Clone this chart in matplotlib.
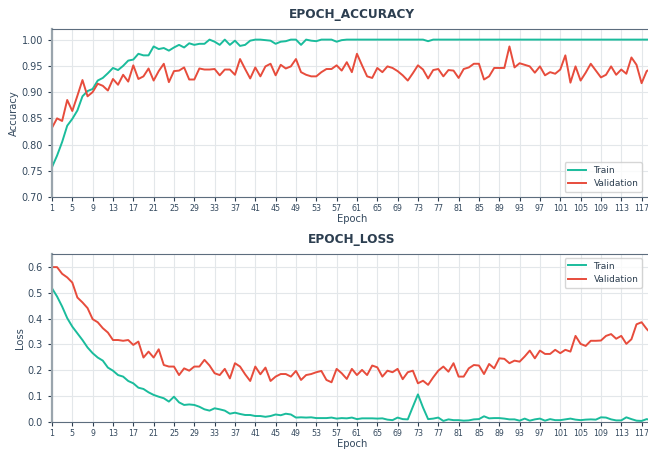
import matplotlib
matplotlib.use("Agg")
import matplotlib.pyplot as plt
import numpy as np

# Training history, one value per epoch
train_acc = [
    0.757, 0.779, 0.805, 0.836, 0.849, 0.865, 0.892, 0.902, 0.906, 0.922,
    0.927, 0.936, 0.946, 0.942, 0.950, 0.960, 0.962, 0.973, 0.970, 0.970,
    0.987, 0.982, 0.984, 0.979, 0.985, 0.990, 0.985, 0.993, 0.990, 0.992,
    0.992, 1.000, 0.996, 0.990, 1.000, 0.990, 0.998, 0.988, 0.990, 0.998,
    1.000, 1.000, 0.999, 0.998, 0.992, 0.996, 0.997, 1.000, 1.000, 0.990,
    1.000, 0.998, 0.997, 1.000, 1.000, 1.000, 0.996, 0.999, 1.000, 1.000,
    1.000, 1.000, 1.000, 1.000, 1.000, 1.000, 1.000, 1.000, 1.000, 1.000,
    1.000, 1.000, 1.000, 1.000, 0.997, 1.000, 1.000, 1.000, 1.000, 1.000,
    1.000, 1.000, 1.000, 1.000, 1.000, 1.000, 1.000, 1.000, 1.000, 1.000,
    1.000, 1.000, 1.000, 1.000, 1.000, 1.000, 1.000, 1.000, 1.000, 1.000,
    1.000, 1.000, 1.000, 1.000, 1.000, 1.000, 1.000, 1.000, 1.000, 1.000,
    1.000, 1.000, 1.000, 1.000, 1.000, 1.000, 1.000, 1.000, 1.000,
]
val_acc = [
    0.832, 0.850, 0.845, 0.885, 0.864, 0.893, 0.923, 0.892, 0.900, 0.916,
    0.912, 0.903, 0.925, 0.914, 0.933, 0.920, 0.951, 0.925, 0.930, 0.945,
    0.922, 0.940, 0.954, 0.919, 0.940, 0.941, 0.947, 0.924, 0.924, 0.945,
    0.943, 0.943, 0.944, 0.932, 0.943, 0.943, 0.933, 0.963, 0.944, 0.926,
    0.947, 0.930, 0.949, 0.954, 0.932, 0.952, 0.945, 0.949, 0.963, 0.938,
    0.933, 0.930, 0.930, 0.938, 0.944, 0.944, 0.951, 0.941, 0.957, 0.938,
    0.973, 0.951, 0.930, 0.927, 0.946, 0.938, 0.949, 0.946, 0.940, 0.932,
    0.922, 0.936, 0.951, 0.943, 0.926, 0.942, 0.944, 0.930, 0.942, 0.941,
    0.927, 0.944, 0.947, 0.954, 0.954, 0.924, 0.930, 0.946, 0.946, 0.946,
    0.987, 0.947, 0.955, 0.952, 0.949, 0.937, 0.949, 0.932, 0.938, 0.935,
    0.943, 0.970, 0.918, 0.949, 0.922, 0.937, 0.954, 0.941, 0.928, 0.933,
    0.949, 0.933, 0.943, 0.935, 0.966, 0.952, 0.917, 0.940, 0.945,
]
train_loss = [
    0.518, 0.486, 0.447, 0.402, 0.369, 0.343, 0.317, 0.288, 0.266, 0.249,
    0.237, 0.210, 0.198, 0.181, 0.175, 0.158, 0.149, 0.132, 0.127, 0.114,
    0.104, 0.097, 0.091, 0.078, 0.097, 0.075, 0.065, 0.067, 0.065, 0.058,
    0.048, 0.043, 0.052, 0.048, 0.043, 0.031, 0.035, 0.030, 0.026, 0.026,
    0.022, 0.022, 0.019, 0.022, 0.028, 0.025, 0.031, 0.028, 0.016, 0.017,
    0.016, 0.017, 0.014, 0.014, 0.014, 0.016, 0.012, 0.014, 0.013, 0.016,
    0.010, 0.013, 0.013, 0.013, 0.012, 0.013, 0.008, 0.006, 0.016, 0.010,
    0.009, 0.058, 0.106, 0.055, 0.010, 0.012, 0.016, 0.003, 0.009, 0.006,
    0.006, 0.004, 0.005, 0.009, 0.010, 0.021, 0.013, 0.014, 0.014, 0.012,
    0.009, 0.009, 0.004, 0.012, 0.004, 0.009, 0.012, 0.004, 0.010, 0.006,
    0.006, 0.009, 0.012, 0.008, 0.006, 0.008, 0.009, 0.008, 0.017, 0.016,
    0.009, 0.005, 0.005, 0.017, 0.010, 0.004, 0.003, 0.010, 0.005,
]
val_loss = [
    0.600, 0.600, 0.574, 0.560, 0.540, 0.482, 0.463, 0.441, 0.398, 0.386,
    0.363, 0.346, 0.317, 0.317, 0.314, 0.317, 0.298, 0.311, 0.249, 0.272,
    0.249, 0.281, 0.220, 0.214, 0.214, 0.181, 0.207, 0.198, 0.214, 0.214,
    0.240, 0.218, 0.188, 0.181, 0.205, 0.168, 0.227, 0.214, 0.184, 0.158,
    0.214, 0.184, 0.210, 0.158, 0.175, 0.185, 0.185, 0.175, 0.197, 0.162,
    0.181, 0.185, 0.192, 0.197, 0.162, 0.153, 0.205, 0.188, 0.166, 0.205,
    0.181, 0.201, 0.181, 0.218, 0.211, 0.175, 0.198, 0.192, 0.205, 0.165,
    0.192, 0.198, 0.149, 0.159, 0.143, 0.172, 0.198, 0.214, 0.194, 0.227,
    0.175, 0.175, 0.207, 0.220, 0.218, 0.185, 0.224, 0.207, 0.246, 0.244,
    0.227, 0.237, 0.233, 0.253, 0.276, 0.246, 0.276, 0.263, 0.263, 0.279,
    0.266, 0.279, 0.272, 0.333, 0.302, 0.294, 0.314, 0.314, 0.315, 0.333,
    0.340, 0.322, 0.333, 0.302, 0.320, 0.378, 0.386, 0.360, 0.340,
]
epochs = np.arange(1, len(train_acc) + 1)
epoch_ticks = list(range(1, 120, 4))

TEAL = "#1abc9c"
RED = "#e74c3c"
INK = "#2c3e50"
GRID = "#e3e7ea"

fig = plt.figure(figsize=(6.48, 4.5), dpi=100, facecolor="white")

panels = [
    ("EPOCH_ACCURACY", "Accuracy", train_acc, val_acc, (0.70, 1.02),
     np.arange(0.70, 1.001, 0.05), "%.2f", 0.562, "lower right", 1 - 192 / 450),
    ("EPOCH_LOSS", "Loss", train_loss, val_loss, (0.0, 0.652),
     np.arange(0.0, 0.61, 0.1), "%.1f", 0.0629, "upper right", 1 - 258 / 450),
]

for title, ylabel, train, val, ylim, yticks, fmt, bottom, loc, leg_y in panels:
    ax = fig.add_axes((0.0802, bottom, 0.9256, 0.3733))
    ax.plot(epochs, train, color=TEAL, linewidth=1.4, label="Train")
    ax.plot(epochs, val, color=RED, linewidth=1.4, label="Validation")
    ax.set_xlim(1, 119)
    ax.set_ylim(*ylim)
    ax.set_xticks(epoch_ticks)
    ax.set_yticks(yticks)
    ax.set_yticklabels([fmt % v for v in yticks])
    ax.grid(True, color=GRID, linewidth=0.8)
    ax.set_axisbelow(True)
    ax.tick_params(axis="x", labelsize=5.7, colors=INK, length=3, width=0.8,
                   pad=2, labelcolor="#34495e")
    ax.tick_params(axis="y", labelsize=7, colors=INK, length=3, width=0.8,
                   labelcolor="#34495e")
    ax.spines["right"].set_visible(False)
    ax.spines["top"].set_color("#5d6d7e")
    ax.spines["bottom"].set_color("#5d6d7e")
    ax.spines["left"].set_color("#9aa5ad")
    ax.spines["left"].set_linewidth(1.6)
    ax.set_title(title, fontsize=8.7, fontweight="bold", color=INK, pad=8)
    ax.set_xlabel("Epoch", fontsize=7.2, color="#34495e", labelpad=1)
    ax.set_ylabel(ylabel, fontsize=7.2, color="#34495e", labelpad=2)
    leg = ax.legend(loc=loc, bbox_to_anchor=(642 / 648, leg_y),
                    bbox_transform=fig.transFigure, borderaxespad=0,
                    fontsize=6.5, frameon=True, fancybox=True)
    leg.get_frame().set_edgecolor("#cccccc")
    for text in leg.get_texts():
        text.set_color(INK)

fig.savefig("out.png", dpi=100, facecolor="white")
